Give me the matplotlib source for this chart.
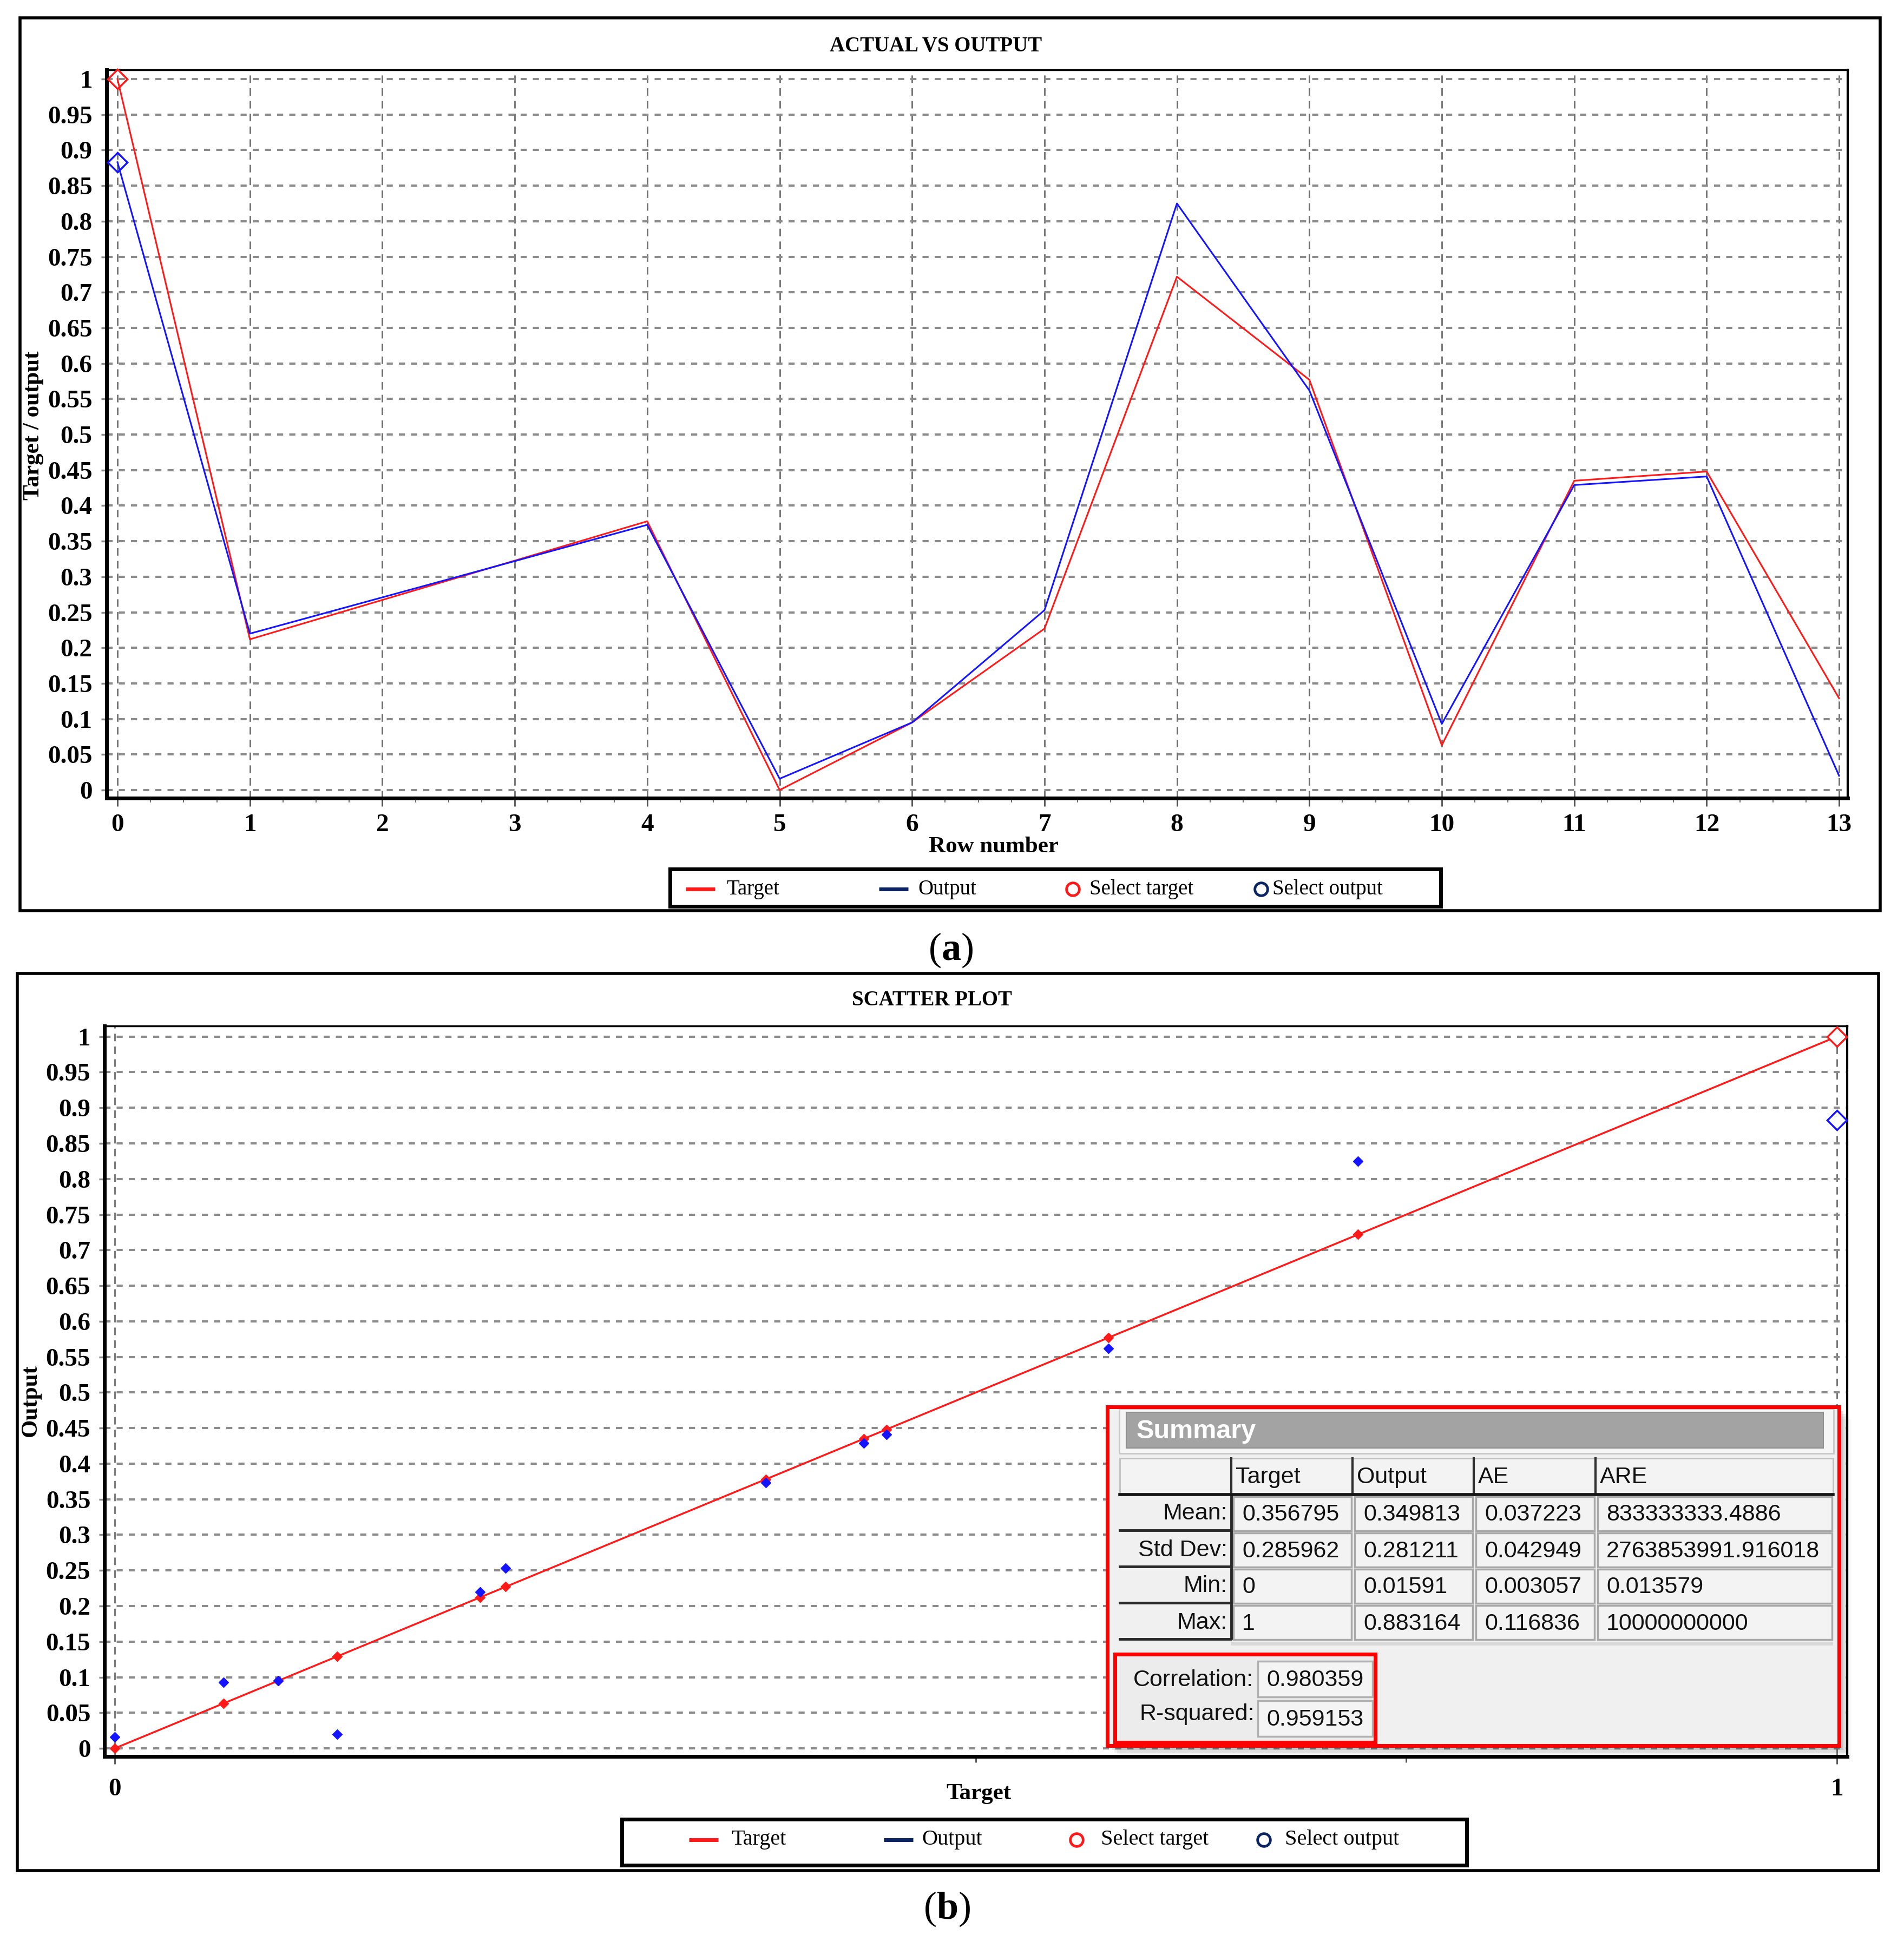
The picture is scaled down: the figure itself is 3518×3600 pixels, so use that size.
import numpy as np
import matplotlib.pyplot as plt
from matplotlib.patches import Rectangle

# values
rows = [0, 1, 4, 5, 6, 7, 8, 9, 10, 11, 12, 13]
target = [1.0, 0.212, 0.378, 0.0, 0.095, 0.227, 0.722, 0.577, 0.063, 0.435, 0.448, 0.129]
output = [0.883, 0.220, 0.373, 0.0159, 0.095, 0.253, 0.825, 0.562, 0.093, 0.429, 0.441, 0.020]
sel = 0  # selected row (open diamonds)

legend_labels = ["Target", "Output", "Select target", "Select output"]

summary_cols = ["Target", "Output", "AE", "ARE"]
summary_rows = ["Mean:", "Std Dev:", "Min:", "Max:"]
summary_vals = [
    ["0.356795", "0.349813", "0.037223", "833333333.4886"],
    ["0.285962", "0.281211", "0.042949", "2763853991.916018"],
    ["0", "0.01591", "0.003057", "0.013579"],
    ["1", "0.883164", "0.116836", "10000000000"],
]
correlation = "0.980359"
r_squared = "0.959153"

RED = "#ff1a1a"
BLUE = "#1414ff"
NAVY = "#0b2463"
SERIF = ["Liberation Serif", "DejaVu Serif"]
SANS = ["Liberation Sans", "DejaVu Sans"]

plt.rcParams["font.family"] = SERIF
plt.rcParams["mathtext.fontset"] = "custom"
plt.rcParams["mathtext.bf"] = "Liberation Serif:bold"
plt.rcParams["mathtext.rm"] = "Liberation Serif"

W, H = 3518, 3600
fig = plt.figure(figsize=(W / 100, H / 100), dpi=100)


def fax(l, t, r, b):
    return fig.add_axes([l / W, 1 - b / H, (r - l) / W, (b - t) / H])


yticks = np.round(np.arange(0, 1.0001, 0.05), 2)
ylabels = [f"{v:g}" for v in yticks]


def style(ax, ypad):
    ax.set_yticks(yticks)
    ax.set_yticklabels(ylabels)
    ax.grid(axis="y", color="#8c8c8c", lw=3, linestyle=(0, (2.7, 2.7)))
    ax.tick_params(axis="y", length=7, width=2.5, color="#8a8a8a", pad=ypad)
    for lab in ax.get_xticklabels() + ax.get_yticklabels():
        lab.set_fontweight("bold")
        lab.set_fontsize(34)
    ax.spines["left"].set_linewidth(5)
    ax.spines["bottom"].set_linewidth(5)
    ax.spines["top"].set_linewidth(2.5)
    ax.spines["right"].set_linewidth(3)
    ax.set_axisbelow(True)


# ---- (a) actual vs output
ax1 = fax(197, 129, 3414, 1475)
ax1.plot(rows, target, color=RED, lw=2.2, zorder=3)
ax1.plot(rows, output, color=BLUE, lw=2.2, zorder=4)
ax1.plot([rows[sel]], [target[sel]], "D", mfc="none", mec=RED, ms=18, mew=2.5, clip_on=False, zorder=5)
ax1.plot([rows[sel]], [output[sel]], "D", mfc="none", mec=BLUE, ms=18, mew=2.5, clip_on=False, zorder=5)
ax1.set_xlim(-0.082, 13.065)
ax1.set_ylim(-0.0114, 1.013)
ax1.set_xticks(range(14))
ax1.set_xticks(np.arange(0, 13.01, 0.25), minor=True)
ax1.grid(axis="x", which="major", color="#6e6e6e", lw=2, linestyle=(0, (5, 3.5)))
ax1.tick_params(axis="x", which="major", length=11, width=2, color="#505050", pad=10)
ax1.tick_params(axis="x", which="minor", length=6, width=1.5, color="#707070")
style(ax1, 12)

# ---- (b) scatter plot
ax2 = fax(193, 1896, 3413, 3245.5)
rest = [i for i in range(len(target)) if i != sel]
ts = np.sort(target)
ax2.plot(ts, ts, color=RED, lw=2.5, zorder=3)
ax2.plot([target[i] for i in rest], [target[i] for i in rest], ls="none", marker="D", ms=9,
         color=RED, zorder=3)
ax2.plot([target[i] for i in rest], [output[i] for i in rest], ls="none", marker="D", ms=9,
         color=BLUE, zorder=4)
ax2.plot([target[sel]], [target[sel]], "D", mfc="white", mec=RED, ms=18, mew=2.5, clip_on=False, zorder=5)
ax2.plot([target[sel]], [output[sel]], "D", mfc="white", mec=BLUE, ms=18, mew=2.5, clip_on=False, zorder=5)
ax2.set_xlim(-0.006, 1.006)
ax2.set_ylim(-0.011, 1.015)
ax2.set_xticks([0, 1])
ax2.set_xticks([0.5, 0.75], minor=True)
ax2.grid(axis="x", which="major", color="#6e6e6e", lw=2, linestyle=(0, (5, 3.5)))
ax2.tick_params(axis="x", which="major", length=10, width=2, color="#505050", pad=19)
ax2.tick_params(axis="x", which="minor", length=8, width=2, color="#505050")
style(ax2, 11.5)

# ---- overlay in pixel coordinates: frames, labels, legends, summary
ov = fig.add_axes([0, 0, 1, 1], zorder=10)
ov.set_xlim(0, W)
ov.set_ylim(H, 0)
ov.axis("off")
ov.patch.set_visible(False)


def rect(x0, y0, x1, y1, fc="none", ec="none", lw=0, **kw):
    ov.add_patch(Rectangle((x0, y0), x1 - x0, y1 - y0, facecolor=fc, edgecolor=ec, lw=lw, **kw))


# panel frames
rect(37, 33, 3474, 1683, ec="black", lw=4)
rect(32, 1799, 3471, 3457, ec="black", lw=4)

bold = dict(fontweight="bold", ha="center", va="center")
ov.text(1729, 85, "ACTUAL VS OUTPUT", fontsize=28, **bold)
ov.text(62, 786, "Target / output", fontsize=31, rotation=90, **bold)
ov.text(1836, 1565, "Row number", fontsize=31, **bold)
ov.text(1757, 1756, r"($\mathbf{a}$)", fontsize=52, ha="center", va="center")

ov.text(1722, 1848, "SCATTER PLOT", fontsize=28, **bold)
ov.text(57, 2588, "Output", fontsize=31, rotation=90, **bold)
ov.text(1808, 3315, "Target", fontsize=31, **bold)
ov.text(1750, 3528, r"($\mathbf{b}$)", fontsize=52, ha="center", va="center")


def legend_box(box, y, xs, fs):
    rect(*box, ec="black", lw=5, fc="white")
    kinds = ["line", "line", "circle", "circle"]
    colors = [RED, NAVY, RED, NAVY]
    for (xh, xt), kind, col, lab in zip(xs, kinds, colors, legend_labels):
        if kind == "line":
            ov.plot([xh, xh + 54], [y, y], color=col, lw=5, solid_capstyle="butt")
        else:
            ov.plot([xh], [y], marker="o", ms=17, mfc="none", mec=col, mew=3.5)
        ov.text(xt, y, lab, fontsize=fs, ha="left", va="center")


legend_box((1238, 1606, 2662, 1675), 1643,
           [(1267, 1342), (1624, 1696), (1982, 2013), (2330, 2351)], 28)
legend_box((1149, 3362, 2710, 3447), 3400,
           [(1273, 1351), (1633, 1703), (1989, 2034), (2335, 2374)], 29)

# summary panel
for i, a in enumerate([0.10, 0.07, 0.04, 0.02]):
    rect(2054 + 5 * i, 2608 + 5 * i, 3406 + 5 * i, 3234 + 5 * i, fc="black", alpha=a)
rect(2046, 2600, 3398, 3226, fc="#f0f0f0")
rect(2068, 2604, 3388, 2686, fc="#f5f5f5", ec="#c8c8c8", lw=2)
rect(2081, 2610, 3369, 2676, fc="#a3a3a3", ec="#8f8f8f", lw=1.5)
ov.text(2100, 2645, "Summary", family=SANS, fontsize=35, fontweight="bold", color="white",
        ha="left", va="center")

xs = [2069, 2275, 2499, 2723, 2948, 3387]
rect(2069, 2695, 3387, 2760, fc="#f3f3f3", ec="#c0c0c0", lw=2)
for x in xs[1:5]:
    ov.plot([x, x], [2695, 2760], color="#303030", lw=3)
for j, name in enumerate(summary_cols):
    ov.text(xs[j + 1] + 8, 2730, name, family=SANS, fontsize=31, ha="left", va="center", color="#111111")

ye = [2764, 2831, 2898, 2965, 3032]
for i, name in enumerate(summary_rows):
    rect(2069, ye[i], 2275, ye[i + 1] - 3, fc="#f0f0f0")
    ov.plot([2069, 2275, 2275], [ye[i + 1] - 3, ye[i + 1] - 3, ye[i]], color="#2a2a2a", lw=3.5)
    ov.text(2268, (ye[i] + ye[i + 1]) / 2, name, family=SANS, fontsize=31, ha="right", va="center",
            color="#111111")
    for j in range(4):
        rect(xs[j + 1] + 4, ye[i] + 2, xs[j + 2] - 2, ye[i + 1] - 2, fc="#f3f3f3", ec="#a8a8a8", lw=2.5)
        ov.text(xs[j + 1] + 20, (ye[i] + ye[i + 1]) / 2 + 2, summary_vals[i][j], family=SANS,
                fontsize=31, ha="left", va="center", color="#111111")
ov.plot([2069, 3387], [2762, 2762], color="#151515", lw=4)
rect(2275, 3034, 3387, 3041, fc="#d9d9d9")

rect(2060, 3057, 2541, 3220, ec="#ff0000", lw=5, fc="#ececec")
rect(2324, 3070, 2536, 3136, fc="#f4f4f4", ec="#b0b0b0", lw=2.5)
rect(2324, 3143, 2536, 3209, fc="#f4f4f4", ec="#b0b0b0", lw=2.5)
ov.text(2316, 3105, "Correlation:", family=SANS, fontsize=31, ha="right", va="center", color="#111111")
ov.text(2340, 3105, correlation, family=SANS, fontsize=31, ha="left", va="center", color="#111111")
ov.text(2318, 3168, "R-squared:", family=SANS, fontsize=31, ha="right", va="center", color="#111111")
ov.text(2340, 3178, r_squared, family=SANS, fontsize=31, ha="left", va="center", color="#111111")
rect(2046, 2600, 3398, 3226, ec="#ff0000", lw=5)

fig.savefig("out.png", dpi=100)
